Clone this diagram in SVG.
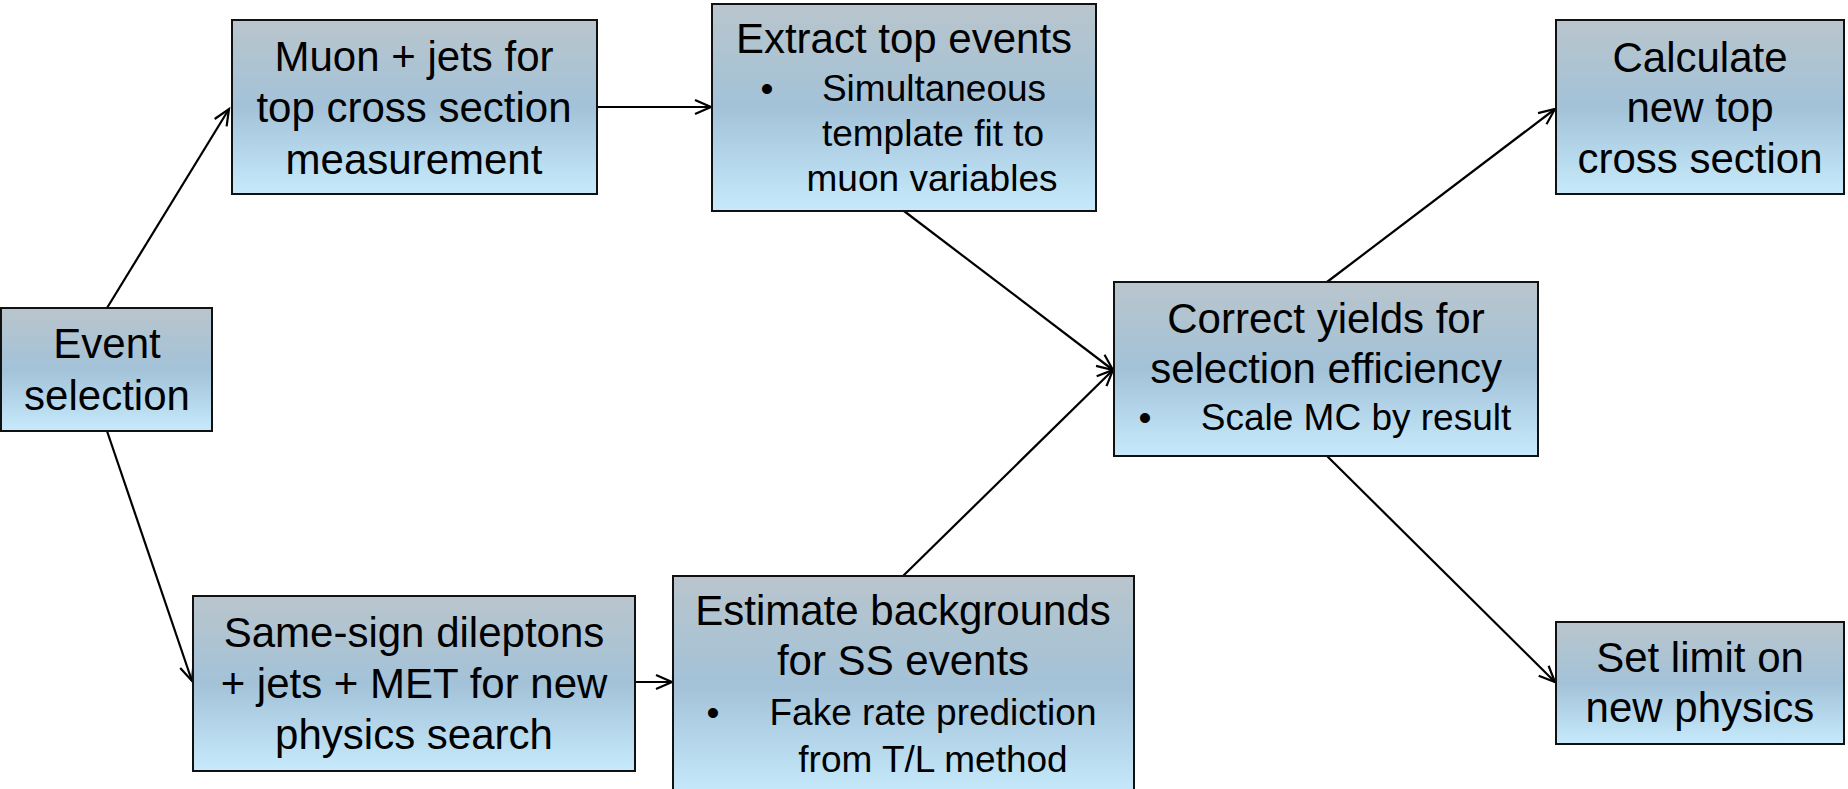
<svg xmlns="http://www.w3.org/2000/svg" width="1848" height="789" viewBox="0 0 1848 789">
<style>
.box{fill:url(#g);stroke:#111;stroke-width:2}
.t{font-family:"Liberation Sans",Arial,sans-serif;font-size:42px;fill:#000;text-anchor:middle}
.b{font-family:"Liberation Sans",Arial,sans-serif;font-size:37px;fill:#000;text-anchor:middle}
.c{stroke:#000;stroke-width:2.2;fill:none;marker-end:url(#a)}
</style>
<defs>
<linearGradient id="g" x1="0" y1="0" x2="0" y2="1">
<stop offset="0" stop-color="#b9c5cc"/>
<stop offset="0.5" stop-color="#a3c2d8"/>
<stop offset="1" stop-color="#c6eafc"/>
</linearGradient>
<marker id="a" markerUnits="userSpaceOnUse" markerWidth="20" markerHeight="20" refX="17" refY="8" orient="auto">
<path d="M1,1 L17,8 L1,15" fill="none" stroke="#000" stroke-width="2.2"/>
</marker>
</defs>
<rect width="1848" height="789" fill="#fff"/>
<g id="connectors">
<line class="c" x1="107" y1="308" x2="229" y2="109"/>
<line class="c" x1="107" y1="431" x2="192" y2="681"/>
<line class="c" x1="597" y1="107" x2="711" y2="107"/>
<line class="c" x1="635" y1="682" x2="672" y2="682"/>
<line class="c" x1="904" y1="211" x2="1113" y2="370"/>
<line class="c" x1="903" y1="576" x2="1113" y2="370"/>
<line class="c" x1="1327" y1="282" x2="1555" y2="109"/>
<line class="c" x1="1327" y1="456" x2="1555" y2="682"/>
</g>
<g id="event">
<rect class="box" x="1" y="308" width="211" height="123"/>
<text class="t" x="107" y="358">Event</text>
<text class="t" x="107" y="410">selection</text>
</g>
<g id="muon">
<rect class="box" x="232" y="20" width="365" height="174"/>
<text class="t" x="414" y="71">Muon + jets for</text>
<text class="t" x="414" y="122">top cross section</text>
<text class="t" x="414" y="174">measurement</text>
</g>
<g id="extract">
<rect class="box" x="712" y="4" width="384" height="207"/>
<text class="t" x="904" y="53">Extract top events</text>
<text class="b" x="767" y="101">•</text>
<text class="b" x="934" y="101">Simultaneous</text>
<text class="b" x="933" y="146">template fit to</text>
<text class="b" x="932" y="191">muon variables</text>
</g>
<g id="calculate">
<rect class="box" x="1556" y="20" width="288" height="174"/>
<text class="t" x="1700" y="72">Calculate</text>
<text class="t" x="1700" y="122">new top</text>
<text class="t" x="1700" y="173">cross section</text>
</g>
<g id="correct">
<rect class="box" x="1114" y="282" width="424" height="174"/>
<text class="t" x="1326" y="333">Correct yields for</text>
<text class="t" x="1326" y="383">selection efficiency</text>
<text class="b" x="1145" y="430">•</text>
<text class="b" x="1356" y="430">Scale MC by result</text>
</g>
<g id="samesign">
<rect class="box" x="193" y="596" width="442" height="175"/>
<text class="t" x="414" y="647">Same-sign dileptons</text>
<text class="t" x="414" y="698">+ jets + MET for new</text>
<text class="t" x="414" y="749">physics search</text>
</g>
<g id="estimate">
<rect class="box" x="673" y="576" width="461" height="220"/>
<text class="t" x="903" y="625">Estimate backgrounds</text>
<text class="t" x="903" y="675">for SS events</text>
<text class="b" x="713" y="725">•</text>
<text class="b" x="933" y="725">Fake rate prediction</text>
<text class="b" x="933" y="772">from T/L method</text>
</g>
<g id="setlimit">
<rect class="box" x="1556" y="622" width="288" height="122"/>
<text class="t" x="1700" y="672">Set limit on</text>
<text class="t" x="1700" y="722">new physics</text>
</g>
</svg>
